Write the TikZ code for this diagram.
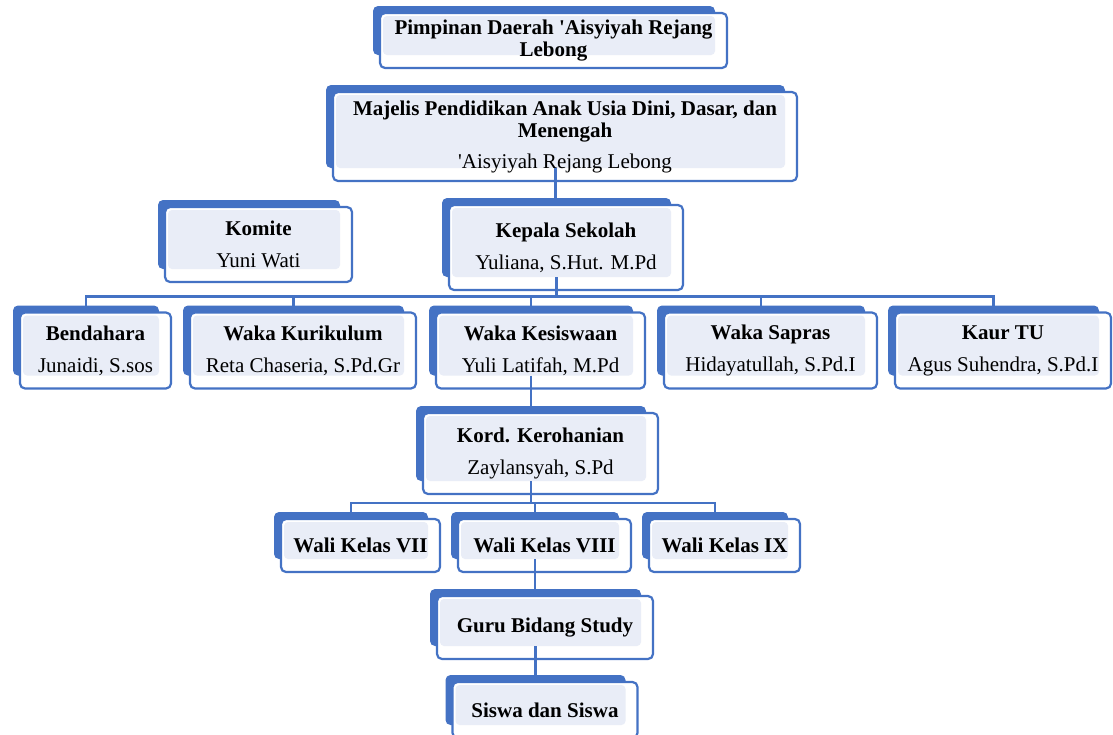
\documentclass[tikz,border=0pt]{standalone}
\usepackage{fontspec}
\setmainfont{Liberation Serif}
\usepackage{tikz}

\definecolor{boxblue}{HTML}{4472C4}
\definecolor{boxlight}{HTML}{E9EDF7}

\pgfdeclarelayer{back}
\pgfdeclarelayer{mid}
\pgfsetlayers{back,mid,main}

\tikzset{
  unitbox/.style={draw=boxblue, line width=2.2pt, rounded corners=5pt, outer sep=0pt,
    inner sep=0pt, align=center, font=\fontsize{21}{22}\selectfont},
  link/.style={draw=boxblue, line width=2.3pt}
}

% #1 name, #2 #3 centre of the front box, #4 width, #5 height, #6 text
\newcommand{\orgbox}[6]{%
  \node[unitbox, minimum width=#4, minimum height=#5] (#1) at (#2,#3) {#6};
  \begin{pgfonlayer}{back}
    \fill[boxblue, rounded corners=5pt] ([shift={(-7,-7)}]#1.north west) rectangle ([shift={(-12,-13)}]#1.south east);
    \fill[white, rounded corners=5pt] (#1.north west) rectangle (#1.south east);
  \end{pgfonlayer}
  \begin{pgfonlayer}{mid}
    \fill[boxlight, rounded corners=4pt] ([shift={(3,3)}]#1.north west) rectangle ([shift={(-12,-13)}]#1.south east);
  \end{pgfonlayer}
  \coordinate (#1-top) at ([shift={(-9.5,-7)}]#1.north);
  \coordinate (#1-bot) at ([shift={(-9.5,-13)}]#1.south);
}

\begin{document}
\begin{tikzpicture}[x=1pt, y=-1pt]
  \useasboundingbox (0,0) rectangle (1113,734);

  \orgbox{pim}{553.5}{40.5}{347}{55}{\textbf{Pimpinan Daerah \textquotesingle Aisyiyah Rejang}\\\textbf{Lebong}}
  \orgbox{maj}{565}{136.5}{464}{89}{\textbf{Majelis Pendidikan Anak Usia Dini, Dasar, dan}\\\textbf{Menengah}\\[9pt]\textquotesingle Aisyiyah Rejang Lebong}
  \orgbox{kom}{258.5}{244.5}{187}{75}{\textbf{Komite}\\[10pt]Yuni Wati}
  \orgbox{kep}{566}{247.5}{234}{85}{\textbf{Kepala Sekolah}\\[10pt]Yuliana, S.Hut. M.Pd}

  \orgbox{bend}{95.5}{350.5}{151}{76}{\textbf{Bendahara}\\[10pt]Junaidi, S.sos}
  \orgbox{kur}{303}{350.5}{226}{76}{\textbf{Waka Kurikulum}\\[10pt]Reta Chaseria, S.Pd.Gr}
  \orgbox{kes}{540.5}{350.5}{209}{76}{\textbf{Waka Kesiswaan}\\[10pt]Yuli Latifah, M.Pd}
  \orgbox{sap}{770.5}{350.5}{213}{76}{\textbf{Waka Sapras}\\[10pt]Hidayatullah, S.Pd.I}
  \orgbox{kaur}{1003}{350.5}{216}{76}{\textbf{Kaur TU}\\[10pt]Agus Suhendra, S.Pd.I}

  \orgbox{kord}{540.5}{453.5}{235}{81}{\textbf{Kord. Kerohanian}\\[10pt]Zaylansyah, S.Pd}

  \orgbox{w7}{360.5}{545.5}{159}{53}{\textbf{Wali Kelas VII}}
  \orgbox{w8}{544.5}{545.5}{173}{53}{\textbf{Wali Kelas VIII}}
  \orgbox{w9}{724.5}{545.5}{151}{53}{\textbf{Wali Kelas IX}}

  \orgbox{guru}{545}{627.5}{216}{63}{\textbf{Guru Bidang Study}}
  \orgbox{sis}{545}{710}{185}{56}{\textbf{Siswa dan Siswa}}

  % connectors
  \draw[link] (maj-bot) -- (maj-bot |- kep-top);
  \coordinate (bus1) at ([yshift=9pt]bend-top);
  \draw[link] (kep-bot) -- (kep-bot |- bus1);
  \draw[link] (bend-top) -- (bus1) -| (kaur-top);
  \foreach \n in {kur,kes,sap}
    \draw[link] (\n-top) -- (\n-top |- bus1);

  \draw[link] (kes-bot) -- (kord-top);
  \coordinate (bus2) at ([yshift=9pt]w7-top);
  \draw[link] (kord-bot) -- (kord-bot |- bus2);
  \draw[link] (w7-top) -- (bus2) -| (w9-top);
  \draw[link] (w8-top) -- (w8-top |- bus2);

  \draw[link] (w8-bot) -- (w8-bot |- guru-top);
  \draw[link] (guru-bot) -- (guru-bot |- sis-top);
\end{tikzpicture}
\end{document}
